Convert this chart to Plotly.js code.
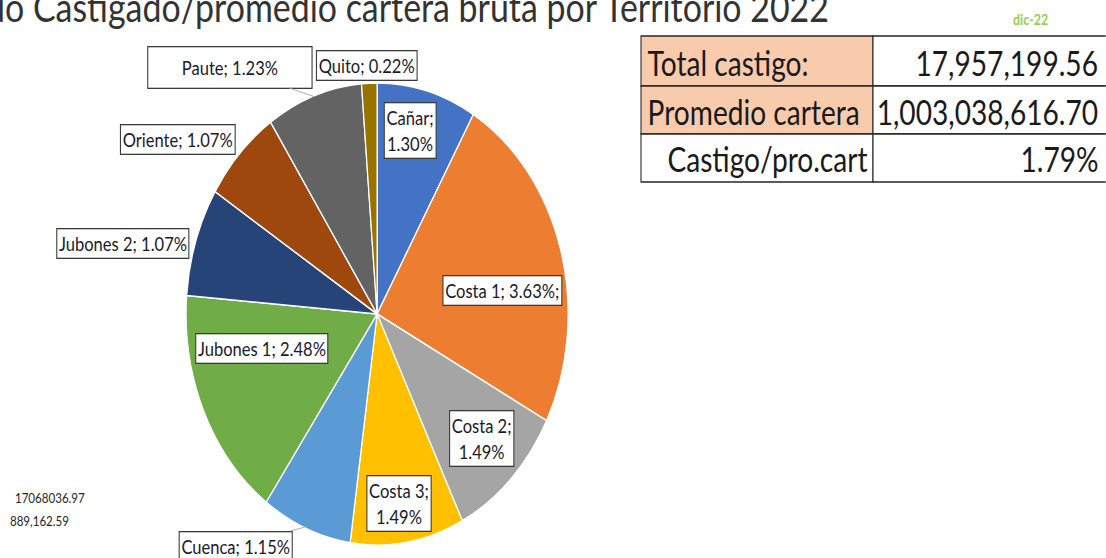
<!DOCTYPE html>
<html>
<head>
<meta charset="utf-8">
<script src="https://cdn.plot.ly/plotly-3.0.1.min.js"></script>
<style>
html,body{margin:0;padding:0;background:#fff;overflow:hidden;}
#wrap{width:1337px;height:558px;transform:scaleX(0.827);transform-origin:0 0;}
</style>
</head>
<body>
<div id="wrap"></div>
<script>
// ---- data ----
const territories = ["Cañar","Costa 1","Costa 2","Costa 3","Cuenca","Jubones 1","Jubones 2","Oriente","Paute","Quito"];
const sliceValues = [8.4, 24.2, 10.0, 9.6, 7.6, 16.4, 7.6, 6.7, 8.1, 1.3];
const ratios = [1.30, 3.63, 1.49, 1.49, 1.15, 2.48, 1.07, 1.07, 1.23, 0.22];
const sliceColors = ["#4472C4","#ED7D31","#A5A5A5","#FFC000","#5B9BD5","#70AD47","#264478","#9E480E","#636363","#997300"];
const titleText = "do Castigado/promedio cartera bruta por Territorio 2022";
const periodLabel = "dic-22";
const tableLabels = ["Total castigo:","Promedio cartera","Castigo/pro.cart"];
const tableValues = ["17,957,199.56","1,003,038,616.70","1.79%"];
const sideNotes = ["17068036.97","889,162.59"];

// ---- geometry helpers (image px -> paper) ----
const W = 1337, H = 558, SX = 0.827;
const px = x => x / SX / W;
const py = y => 1 - y / H;
const FONT = "Lato, 'Liberation Sans', sans-serif";

const pie = {
  type: "pie",
  labels: territories,
  values: sliceValues,
  sort: false,
  direction: "clockwise",
  rotation: 0,
  textinfo: "none",
  hoverinfo: "label+percent",
  marker: {colors: sliceColors, line: {color: "#ffffff", width: 1.5}},
  domain: {x: [(456 - 231) / W, (456 + 231) / W], y: [(H - 314 - 231) / H, (H - 314 + 231) / H]},
  showlegend: false
};

const labelFont = {family: FONT, size: 20, color: "#1a1a2a"};
// label box positions (image coordinates of the centre)
const labelPos = [
  {x: 410, y: 131, two: true},
  {x: 502, y: 290},
  {x: 482, y: 438, two: true},
  {x: 399, y: 503, two: true},
  {x: 236, y: 546, tip: [305, 527]},
  {x: 262, y: 348},
  {x: 123, y: 243},
  {x: 178, y: 140},
  {x: 230, y: 67, tip: [315, 97], w: 160, h: 36},
  {x: 367, y: 65}
];

const annotations = [];
territories.forEach((t, i) => {
  const p = labelPos[i];
  const txt = t + ";" + (p.two ? "<br>" : " ") + ratios[i].toFixed(2) + "%" + (i === 1 ? ";" : "");
  const a = {
    text: txt, xref: "paper", yref: "paper",
    font: labelFont, bgcolor: "#ffffff", bordercolor: "#3a3a3a", borderwidth: 1.3, borderpad: 2,
    align: "center"
  };
  if (p.w) { a.width = p.w / SX; a.height = p.h; }
  if (p.tip) {
    a.x = px(p.tip[0]); a.y = py(p.tip[1]);
    a.showarrow = true; a.arrowhead = 0; a.arrowwidth = 1; a.arrowcolor = "#a6a6a6";
    a.axref = "pixel"; a.ayref = "pixel";
    a.ax = (p.x - p.tip[0]) / SX; a.ay = (p.y - p.tip[1]);
  } else {
    a.x = px(p.x); a.y = py(p.y); a.showarrow = false;
    a.xanchor = "center"; a.yanchor = "middle";
  }
  annotations.push(a);
});

// title (cut off on the left as in the source)
annotations.push({
  text: titleText, xref: "paper", yref: "paper", x: px(830), y: py(7),
  xanchor: "right", yanchor: "middle", showarrow: false,
  font: {family: FONT, size: 41, color: "#333333"}
});

// period label
annotations.push({
  text: "<b>" + periodLabel + "</b>", xref: "paper", yref: "paper", x: px(1031), y: py(19),
  xanchor: "center", yanchor: "middle", showarrow: false,
  font: {family: FONT, size: 15, color: "#92D050"}
});

// table
const rowEdges = [36, 86, 134, 182];
const colL = 641, colM = 873, colR = 1120;
const shapes = [];
for (let r = 0; r < 3; r++) {
  const y0 = rowEdges[r], y1 = rowEdges[r + 1];
  shapes.push({type: "rect", xref: "paper", yref: "paper", x0: px(colL), x1: px(colM), y0: py(y1), y1: py(y0),
    fillcolor: r < 2 ? "#F8CBAD" : "#ffffff", line: {color: "#262626", width: 1.3}, layer: "below"});
  shapes.push({type: "rect", xref: "paper", yref: "paper", x0: px(colM), x1: px(colR), y0: py(y1), y1: py(y0),
    fillcolor: "#ffffff", line: {color: "#262626", width: 1.3}, layer: "below"});
  const yc = (y0 + y1) / 2 + 1;
  annotations.push({
    text: tableLabels[r], xref: "paper", yref: "paper",
    x: r < 2 ? px(646) : px(869), xanchor: r < 2 ? "left" : "right",
    y: py(yc), yanchor: "middle", showarrow: false,
    font: {family: FONT, size: 34, color: "#1a1a1a"}
  });
  annotations.push({
    text: tableValues[r], xref: "paper", yref: "paper",
    x: px(1100), xanchor: "right",
    y: py(yc), yanchor: "middle", showarrow: false,
    font: {family: FONT, size: 34, color: "#1a1a1a"}
  });
}

// side notes bottom-left
annotations.push({text: sideNotes[0], xref: "paper", yref: "paper", x: px(13), y: py(497),
  xanchor: "left", yanchor: "middle", showarrow: false,
  font: {family: FONT, size: 14, color: "#262626"}});
annotations.push({text: sideNotes[1], xref: "paper", yref: "paper", x: px(8), y: py(520),
  xanchor: "left", yanchor: "middle", showarrow: false,
  font: {family: FONT, size: 14, color: "#262626"}});

const layout = {
  width: W, height: H,
  margin: {l: 0, r: 0, t: 0, b: 0},
  paper_bgcolor: "#ffffff", plot_bgcolor: "#ffffff",
  showlegend: false,
  annotations: annotations,
  shapes: shapes
};

Plotly.newPlot("wrap", [pie], layout, {displayModeBar: false, staticPlot: true});
</script>
</body>
</html>
